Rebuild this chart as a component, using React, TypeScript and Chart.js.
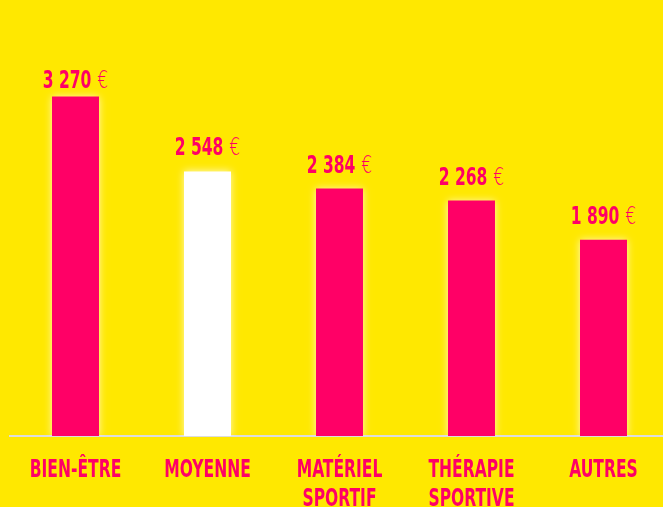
import React, { useEffect, useRef } from "react";
import { Chart, registerables } from "chart.js";

Chart.register(...registerables);

const categories: string[][] = [
  ["BIEN-ÊTRE"],
  ["MOYENNE"],
  ["MATÉRIEL", "SPORTIF"],
  ["THÉRAPIE", "SPORTIVE"],
  ["AUTRES"],
];
const values: number[] = [3270, 2548, 2384, 2268, 1890];
const valueLabels: string[] = ["3 270", "2 548", "2 384", "2 268", "1 890"];
const currency = "€";
const highlightIndex = 1;

const PINK = "#FF0066";
const YELLOW = "#FFE800";
const FONT = "'DejaVu Sans Condensed', 'DejaVu Sans', sans-serif";
const SX = 0.72;

function drawScaledText(ctx: CanvasRenderingContext2D, text: string, x: number, y: number) {
  ctx.save();
  ctx.translate(x, y);
  ctx.scale(SX, 1);
  ctx.fillText(text, 0, 0);
  ctx.restore();
}

const glowPlugin = {
  id: "glow",
  beforeDatasetDraw(chart: any) {
    const ctx = chart.ctx;
    ctx.save();
    ctx.shadowColor = "rgba(255,255,255,0.75)";
    ctx.shadowBlur = 8;
  },
  afterDatasetDraw(chart: any) {
    chart.ctx.restore();
  },
};

const labelPlugin = {
  id: "valueLabels",
  afterDatasetsDraw(chart: any) {
    const ctx = chart.ctx;
    const meta = chart.getDatasetMeta(0);
    const xScale = chart.scales.x;
    ctx.save();
    ctx.fillStyle = PINK;
    ctx.textBaseline = "alphabetic";
    ctx.textAlign = "left";
    meta.data.forEach((bar: any, i: number) => {
      const num = valueLabels[i];
      ctx.font = `bold 24px ${FONT}`;
      const w1 = ctx.measureText(num).width * SX;
      ctx.font = `200 24px 'DejaVu Sans', sans-serif`;
      const w2 = ctx.measureText(currency).width * SX;
      const gap = 6;
      const total = w1 + gap + w2;
      const x0 = bar.x - total / 2;
      const y = Math.max(bar.y - 16, chart.chartArea.top + 88);
      ctx.font = `bold 24px ${FONT}`;
      drawScaledText(ctx, num, x0, y);
      ctx.font = `200 24px 'DejaVu Sans', sans-serif`;
      drawScaledText(ctx, currency, x0 + w1 + gap, y);
    });
    // category labels
    ctx.font = `bold 24px ${FONT}`;
    categories.forEach((lines, i) => {
      const cx = xScale.getPixelForTick(i);
      lines.forEach((line, j) => {
        const w = ctx.measureText(line).width * SX;
        const y = xScale.top + 41 + j * 29;
        drawScaledText(ctx, line, cx - w / 2, y);
      });
    });
    ctx.restore();
  },
};

export default function App() {
  const ref = useRef<HTMLCanvasElement | null>(null);
  useEffect(() => {
    if (!ref.current) return;
    const chart = new Chart(ref.current, {
      type: "bar",
      data: {
        labels: categories.map((l) => l.join(" ")),
        datasets: [
          {
            data: values,
            backgroundColor: values.map((_, i) => (i === highlightIndex ? "#FFFFFF" : PINK)),
            borderWidth: 0,
            categoryPercentage: 1,
            barPercentage: 0.356,
          },
        ],
      },
      options: {
        animation: false,
        responsive: false,
        maintainAspectRatio: false,
        layout: { padding: { left: 9.5, right: 10.5, top: 0, bottom: 0 } },
        plugins: { legend: { display: false }, tooltip: { enabled: false } },
        scales: {
          x: {
            grid: { display: false },
            border: { display: true, color: "#DCDCDC", width: 2 },
            ticks: { display: false },
            afterFit: (scale: any) => {
              scale.height = 71;
              scale.paddingLeft = 0;
              scale.paddingRight = 0;
            },
          },
          y: {
            display: false,
            min: 0,
            max: 4200,
          },
        },
      },
      plugins: [glowPlugin, labelPlugin],
    });
    return () => chart.destroy();
  }, []);
  return (
    <div
      style={{
        position: "fixed",
        left: 0,
        top: 0,
        width: 663,
        height: 507,
        overflow: "hidden",
        background: YELLOW,
      }}
    >
      <canvas ref={ref} width={680} height={507} style={{ display: "block" }} />
    </div>
  );
}
